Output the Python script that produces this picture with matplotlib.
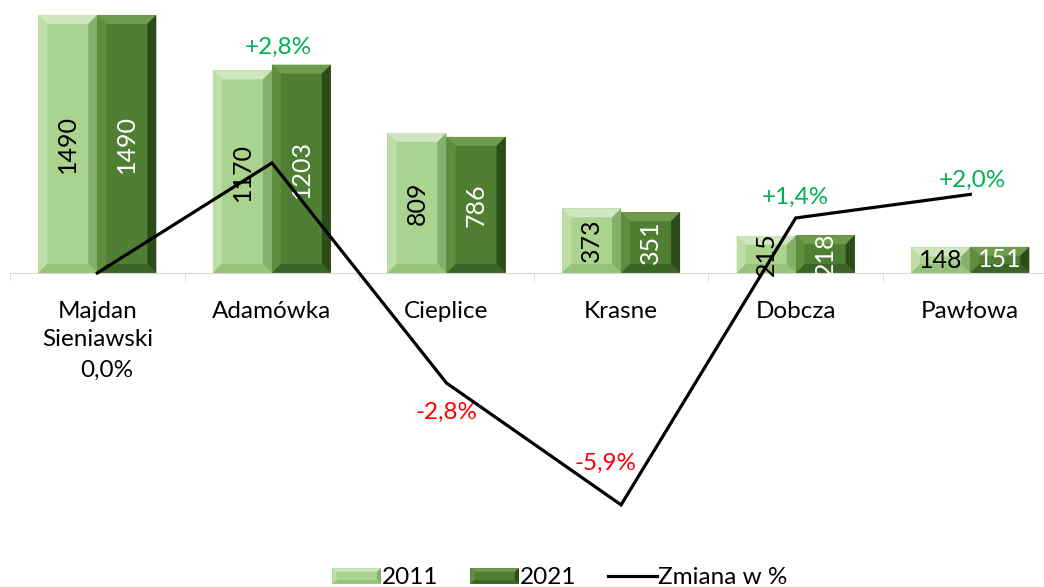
import matplotlib
matplotlib.use('Agg')
import matplotlib.pyplot as plt
import numpy as np
from matplotlib.patches import Polygon, Rectangle
from matplotlib.lines import Line2D
from matplotlib.legend_handler import HandlerBase

categories = ['Majdan\nSieniawski', 'Adamówka', 'Cieplice', 'Krasne', 'Dobcza', 'Pawłowa']
values_2011 = [1490, 1170, 809, 373, 215, 148]
values_2021 = [1490, 1203, 786, 351, 218, 151]
change_pct = [0.0, 2.8, -2.8, -5.9, 1.4, 2.0]
change_labels = ['0,0%', '+2,8%', '-2,8%', '-5,9%', '+1,4%', '+2,0%']

# offsets (points) of the percent labels from their line points
label_offsets = [(6.5, -70), (4.3, 83.5), (0, -21), (-11, 30), (0, 15), (1.5, 10)]

# face, top, left, right, bottom
LIGHT = ['#ABD390', '#CFE7BF', '#BDDEA6', '#86AF6B', '#97C27B']
DARK = ['#507E32', '#6E9C4C', '#5F8E3F', '#2E4C1B', '#3D6427']

FONT = 'Lato'
plt.rcParams['font.family'] = [FONT, 'DejaVu Sans']


def bevel_polys(x0, y0, x1, y1, bx, by):
    top = [(x0, y1), (x1, y1), (x1 - bx, y1 - by), (x0 + bx, y1 - by)]
    left = [(x0, y0), (x0, y1), (x0 + bx, y1 - by), (x0 + bx, y0 + by)]
    right = [(x1, y0), (x1, y1), (x1 - bx, y1 - by), (x1 - bx, y0 + by)]
    bottom = [(x0, y0), (x1, y0), (x1 - bx, y0 + by), (x0 + bx, y0 + by)]
    return top, left, right, bottom


def add_bevel(ax, patch, colors, b=9):
    x, y, w, h = patch.get_x(), patch.get_y(), patch.get_width(), patch.get_height()
    (px0, py0), (px1, py1) = ax.transData.transform([(x, y), (x + w, y + h)])
    bx = min(b, (px1 - px0) / 2)
    by = min(b, (py1 - py0) / 2)
    inv = ax.transData.inverted()
    for poly, c in zip(bevel_polys(px0, py0, px1, py1, bx, by), colors[1:]):
        pts = inv.transform(poly)
        ax.add_patch(Polygon(pts, closed=True, facecolor=c, edgecolor='none', zorder=2))


class BevelHandler(HandlerBase):
    def __init__(self, colors):
        super().__init__()
        self.colors = colors

    def create_artists(self, legend, orig_handle, xdescent, ydescent,
                       width, height, fontsize, trans):
        x0, y0 = -xdescent, -ydescent
        x1, y1 = x0 + width, y0 + height
        arts = [Rectangle((x0, y0), width, height, facecolor=self.colors[0],
                          edgecolor='none', transform=trans)]
        for poly, c in zip(bevel_polys(x0, y0, x1, y1, 3, 2.5), self.colors[1:]):
            arts.append(Polygon(poly, closed=True, facecolor=c, edgecolor='none',
                                transform=trans))
        return arts


fig = plt.figure(figsize=(10.44, 5.87), dpi=100)
W, H = 1044, 587
zero_px = 273
unit_px = 0.1732      # pixels per bar unit
pct_px = 39.3         # pixels per percent
half = 1500 * unit_px
ax = fig.add_axes([10 / W, (H - zero_px - half) / H, 1047.6 / W, 2 * half / H])
ax.set_xlim(-0.5, 5.5)
ax.set_ylim(-1500, 1500)

x = np.arange(len(categories))
bw = 0.338
bars1 = ax.bar(x - bw / 2, values_2011, bw, color=LIGHT[0], zorder=1)
bars2 = ax.bar(x + bw / 2, values_2021, bw, color=DARK[0], zorder=1)
for p in bars1:
    add_bevel(ax, p, LIGHT)
for p in bars2:
    add_bevel(ax, p, DARK)

for i, (v1, v2) in enumerate(zip(values_2011, values_2021)):
    rot = 90 if i < 5 else 0
    ax.text(x[i] - bw / 2, v1 / 2, str(v1), rotation=rot, ha='center', va='center',
            fontsize=18, color='black', zorder=3)
    ax.text(x[i] + bw / 2, v2 / 2, str(v2), rotation=rot, ha='center', va='center',
            fontsize=18, color='white', zorder=3)

for s in ['top', 'left', 'right']:
    ax.spines[s].set_visible(False)
ax.spines['bottom'].set_position(('data', 0))
ax.spines['bottom'].set_color('#D9D9D9')
ax.set_yticks([])
ax.set_xticks(x)
ax.set_xticklabels(categories, fontsize=17.5, linespacing=1.45)
ax.set_xticks(np.arange(-0.5, 6, 1), minor=True)
ax.tick_params(axis='x', which='major', length=0, pad=20)
ax.tick_params(axis='x', which='minor', length=6, color='#D9D9D9', direction='out')

ax2 = ax.twinx()
lim2 = half / pct_px
ax2.set_ylim(-lim2, lim2)
ax2.set_yticks([])
for s in ax2.spines.values():
    s.set_visible(False)
ax2.plot(x, change_pct, color='black', lw=2.3, solid_joinstyle='miter', zorder=4)
for i, (v, lab) in enumerate(zip(change_pct, change_labels)):
    col = '#00B050' if v > 0 else ('#FF0000' if v < 0 else 'black')
    ax2.annotate(lab, (x[i], v), xytext=label_offsets[i], textcoords='offset points',
                 ha='center', va='center', fontsize=17.5, color=col)

h1 = Rectangle((0, 0), 1, 1)
h2 = Rectangle((0, 0), 1, 1, label='b')
h3 = Line2D([], [], color='black', lw=2.3)
fig.legend([h1, h2, h3], ['2011', '2021', 'Zmiana w %'],
           handler_map={h1: BevelHandler(LIGHT), h2: BevelHandler(DARK)},
           loc='center', bbox_to_anchor=(560 / W, 1 - 578 / H), ncol=3, frameon=False,
           fontsize=17.5, handlelength=2.0, handleheight=0.6, handletextpad=0.05,
           columnspacing=1.3, borderpad=0)

fig.savefig('out.png', dpi=100)
